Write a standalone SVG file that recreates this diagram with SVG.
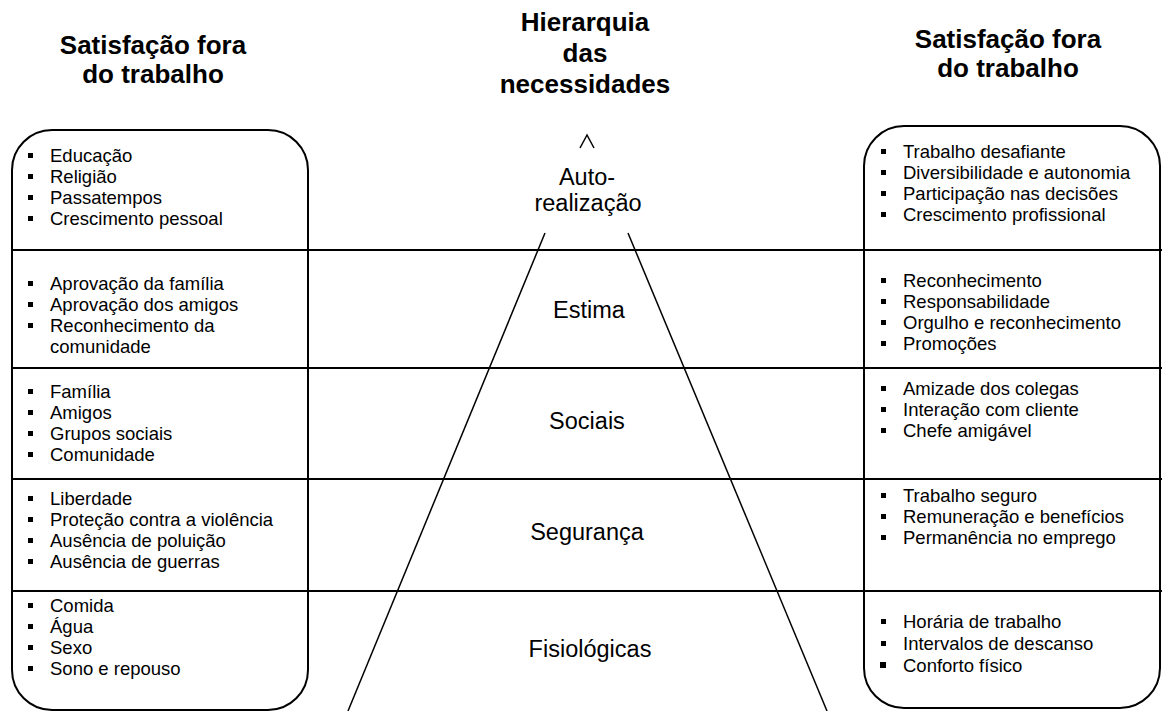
<svg xmlns="http://www.w3.org/2000/svg" width="1162" height="711" viewBox="0 0 1162 711">
<style>
.t{font-family:"Liberation Sans",Arial,sans-serif;fill:#000}
.h{font-size:26px;font-weight:bold;text-anchor:middle}
.c{font-size:23.5px;text-anchor:middle}
.i{font-size:18.5px}
.box{fill:none;stroke:#000;stroke-width:2}
.ln{stroke:#000;stroke-width:2}
.py{stroke:#000;stroke-width:1.5;fill:none}
</style>
<defs><rect id="b" width="5" height="5" fill="#000"/></defs>
<rect width="1162" height="711" fill="#fff"/>
<g id="titles">
<text class="t h" x="153" y="54">Satisfação fora</text>
<text class="t h" x="153" y="83">do trabalho</text>
<text class="t h" x="585" y="31">Hierarquia</text>
<text class="t h" x="585" y="62">das</text>
<text class="t h" x="585" y="93">necessidades</text>
<text class="t h" x="1008" y="48">Satisfação fora</text>
<text class="t h" x="1008" y="77">do trabalho</text>
</g>
<g id="left-box"><rect class="box" x="12" y="130" width="296" height="580" rx="40" ry="40"/></g>
<g id="right-box"><rect class="box" x="864" y="126" width="296" height="582" rx="40" ry="40"/></g>
<g id="connectors">
<line class="ln" x1="12" y1="250" x2="1162" y2="250"/>
<line class="ln" x1="12" y1="368" x2="1162" y2="368"/>
<line class="ln" x1="12" y1="479" x2="1162" y2="479"/>
<line class="ln" x1="12" y1="591" x2="1162" y2="591"/>
<line class="py" x1="545" y1="233" x2="348" y2="711"/>
<line class="py" x1="628" y1="233" x2="827" y2="711"/>
<polyline class="py" points="580,148 587,135 594,148"/>
</g>
<g id="pyramid-labels">
<text class="t c" x="587" y="185">Auto-</text>
<text class="t c" x="588" y="211">realização</text>
<text class="t c" x="589" y="318">Estima</text>
<text class="t c" x="587" y="429">Sociais</text>
<text class="t c" x="587" y="540">Segurança</text>
<text class="t c" x="590" y="657">Fisiológicas</text>
</g>
<g id="left-row1">
<use href="#b" x="28" y="153"/><text class="t i" x="50" y="162">Educação</text>
<use href="#b" x="28" y="174"/><text class="t i" x="50" y="183">Religião</text>
<use href="#b" x="28" y="195"/><text class="t i" x="50" y="204">Passatempos</text>
<use href="#b" x="28" y="216"/><text class="t i" x="50" y="225">Crescimento pessoal</text>
</g>
<g id="left-row2">
<use href="#b" x="28" y="281"/><text class="t i" x="50" y="290">Aprovação da família</text>
<use href="#b" x="28" y="302"/><text class="t i" x="50" y="311">Aprovação dos amigos</text>
<use href="#b" x="28" y="323"/><text class="t i" x="50" y="332">Reconhecimento da</text>
<text class="t i" x="50" y="353">comunidade</text>
</g>
<g id="left-row3">
<use href="#b" x="28" y="389"/><text class="t i" x="50" y="398">Família</text>
<use href="#b" x="28" y="410"/><text class="t i" x="50" y="419">Amigos</text>
<use href="#b" x="28" y="431"/><text class="t i" x="50" y="440">Grupos sociais</text>
<use href="#b" x="28" y="452"/><text class="t i" x="50" y="461">Comunidade</text>
</g>
<g id="left-row4">
<use href="#b" x="28" y="496"/><text class="t i" x="50" y="505">Liberdade</text>
<use href="#b" x="28" y="517"/><text class="t i" x="50" y="526">Proteção contra a violência</text>
<use href="#b" x="28" y="538"/><text class="t i" x="50" y="547">Ausência de poluição</text>
<use href="#b" x="28" y="559"/><text class="t i" x="50" y="568">Ausência de guerras</text>
</g>
<g id="left-row5">
<use href="#b" x="28" y="603"/><text class="t i" x="50" y="612">Comida</text>
<use href="#b" x="28" y="624"/><text class="t i" x="50" y="633">Água</text>
<use href="#b" x="28" y="645"/><text class="t i" x="50" y="654">Sexo</text>
<use href="#b" x="28" y="666"/><text class="t i" x="50" y="675">Sono e repouso</text>
</g>
<g id="right-row1">
<use href="#b" x="881" y="149"/><text class="t i" x="903" y="158">Trabalho desafiante</text>
<use href="#b" x="881" y="170"/><text class="t i" x="903" y="179">Diversibilidade e autonomia</text>
<use href="#b" x="881" y="191"/><text class="t i" x="903" y="200">Participação nas decisões</text>
<use href="#b" x="881" y="212"/><text class="t i" x="903" y="221">Crescimento profissional</text>
</g>
<g id="right-row2">
<use href="#b" x="881" y="278"/><text class="t i" x="903" y="287">Reconhecimento</text>
<use href="#b" x="881" y="299"/><text class="t i" x="903" y="308">Responsabilidade</text>
<use href="#b" x="881" y="320"/><text class="t i" x="903" y="329">Orgulho e reconhecimento</text>
<use href="#b" x="881" y="341"/><text class="t i" x="903" y="350">Promoções</text>
</g>
<g id="right-row3">
<use href="#b" x="881" y="386"/><text class="t i" x="903" y="395">Amizade dos colegas</text>
<use href="#b" x="881" y="407"/><text class="t i" x="903" y="416">Interação com cliente</text>
<use href="#b" x="881" y="428"/><text class="t i" x="903" y="437">Chefe amigável</text>
</g>
<g id="right-row4">
<use href="#b" x="881" y="493"/><text class="t i" x="903" y="502">Trabalho seguro</text>
<use href="#b" x="881" y="514"/><text class="t i" x="903" y="523">Remuneração e benefícios</text>
<use href="#b" x="881" y="535"/><text class="t i" x="903" y="544">Permanência no emprego</text>
</g>
<g id="right-row5">
<use href="#b" x="881" y="619"/><text class="t i" x="903" y="628">Horária de trabalho</text>
<use href="#b" x="881" y="641"/><text class="t i" x="903" y="650">Intervalos de descanso</text>
<rect x="880" y="662" width="6" height="6" fill="#000"/><text class="t i" x="903" y="672">Conforto físico</text>
</g>
</svg>
